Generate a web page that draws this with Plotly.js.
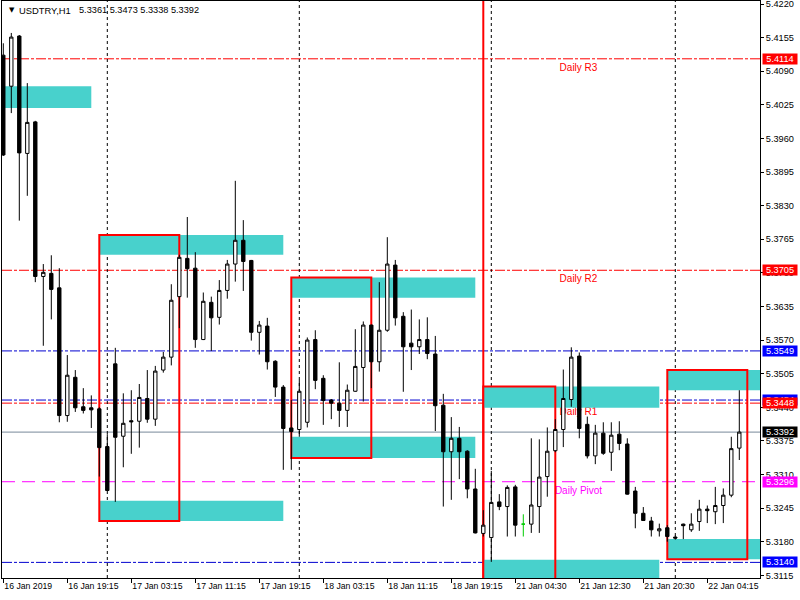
<!DOCTYPE html>
<html><head><meta charset="utf-8">
<script src="https://cdn.plot.ly/plotly-3.0.1.min.js"></script>
<style>html,body{margin:0;padding:0;background:#fff}#chart{width:800px;height:600px}</style>
</head><body><div id="chart"></div>
<script>
const symbolName = 'USDTRY,H1';
const openP = [
5.4121,5.4061,5.4158,5.3931,5.3992,5.3693,5.3699,5.3671,5.3424,5.3498,
5.3441,5.3439,5.3437,5.3364,5.3524,5.3384,5.3414,5.3413,5.3457,5.3417,
5.3512,5.3537,5.3654,5.3728,5.3709,5.3571,5.3643,5.3614,5.3666,5.3717,
5.3763,5.3724,5.3585,5.3597,5.3529,5.3479,5.3400,5.3397,5.3411,5.3571,
5.3496,5.3454,5.3448,5.3434,5.3471,5.3517,5.3599,5.3528,5.3589,5.3715,
5.3616,5.3564,5.3557,5.3571,5.3543,5.3444,5.3354,5.3380,5.3355,5.3282,
5.3196,5.3188,5.3257,5.3248,5.3286,5.3214,5.3214,5.3248,5.3306,5.3356,
5.3397,5.3455,5.3539,5.3407,5.3346,5.3390,5.3353,5.3388,5.3369,5.3278,
5.3235,5.3220,5.3201,5.3207,5.3189,5.3214,5.3203,5.3219,5.3243,5.3238,
5.3250,5.3270,5.3361];
const highP = [
5.4144,5.4164,5.4160,5.4067,5.3994,5.3717,5.3734,5.3709,5.3541,5.3512,
5.3477,5.3463,5.3440,5.3388,5.3555,5.3467,5.3473,5.3485,5.3512,5.3520,
5.3547,5.3678,5.3735,5.3808,5.3740,5.3662,5.3654,5.3686,5.3725,5.3878,
5.3802,5.3725,5.3607,5.3613,5.3531,5.3483,5.3454,5.3493,5.3575,5.3589,
5.3502,5.3456,5.3527,5.3484,5.3591,5.3606,5.3600,5.3682,5.3769,5.3725,
5.3624,5.3629,5.3610,5.3614,5.3578,5.3466,5.3421,5.3402,5.3357,5.3321,
5.3241,5.3317,5.3272,5.3289,5.3290,5.3233,5.3380,5.3378,5.3401,5.3417,
5.3513,5.3556,5.3546,5.3422,5.3406,5.3411,5.3411,5.3413,5.3380,5.3286,
5.3247,5.3228,5.3215,5.3212,5.3192,5.3215,5.3235,5.3261,5.3250,5.3286,
5.3283,5.3383,5.3473];
const lowP = [
5.3926,5.4009,5.3801,5.3849,5.3682,5.3559,5.3610,5.3411,5.3412,5.3431,
5.3428,5.3400,5.3306,5.3279,5.3257,5.3324,5.3350,5.3362,5.3410,5.3404,
5.3507,5.3521,5.3593,5.3652,5.3555,5.3570,5.3549,5.3600,5.3650,5.3683,
5.3665,5.3569,5.3542,5.3513,5.3460,5.3319,5.3319,5.3383,5.3401,5.3475,
5.3406,5.3417,5.3402,5.3402,5.3470,5.3451,5.3477,5.3509,5.3586,5.3598,
5.3470,5.3512,5.3543,5.3533,5.3394,5.3248,5.3261,5.3301,5.3264,5.3196,
5.3190,5.3141,5.3241,5.3190,5.3190,5.3190,5.3197,5.3197,5.3267,5.3353,
5.3363,5.3441,5.3380,5.3341,5.3330,5.3348,5.3317,5.3357,5.3271,5.3206,
5.3220,5.3190,5.3190,5.3180,5.3184,5.3185,5.3199,5.3201,5.3216,5.3214,
5.3216,5.3266,5.3338];
const closeP = [
5.3928,5.4156,5.3932,5.3991,5.3693,5.3701,5.3668,5.3424,5.3502,5.3439,
5.3434,5.3435,5.3362,5.3279,5.3382,5.3409,5.3412,5.3459,5.3417,5.3510,
5.3537,5.3647,5.3730,5.3708,5.3571,5.3645,5.3613,5.3666,5.3717,5.3763,
5.3722,5.3585,5.3599,5.3528,5.3479,5.3399,5.3393,5.3471,5.3570,5.3492,
5.3453,5.3448,5.3434,5.3473,5.3519,5.3599,5.3528,5.3589,5.3717,5.3613,
5.3557,5.3557,5.3571,5.3544,5.3443,5.3354,5.3380,5.3354,5.3282,5.3197,
5.3212,5.3256,5.3248,5.3285,5.3212,5.3214,5.3251,5.3305,5.3355,5.3397,
5.3457,5.3537,5.3399,5.3346,5.3390,5.3351,5.3386,5.3370,5.3272,5.3235,
5.3221,5.3203,5.3205,5.3190,5.3187,5.3211,5.3214,5.3243,5.3240,5.3250,
5.3270,5.3360,5.3392];

const tickIndex = [0,8,16,24,32,40,48,56,64,72,80,88];
const tickLabels = ['16 Jan 2019','16 Jan 19:15','17 Jan 03:15','17 Jan 11:15','17 Jan 19:15','18 Jan 03:15',
  '18 Jan 11:15','18 Jan 19:15','21 Jan 04:30','21 Jan 12:30','21 Jan 20:30','22 Jan 04:15'];
const priceTicks = [5.4220,5.4155,5.4090,5.4025,5.3960,5.3895,5.3830,5.3765,5.3700,5.3635,5.3570,5.3505,5.3440,5.3375,5.3310,5.3245,5.3180,5.3115];

const separatorIndex = [13,37,61,84];
const markerLineIndex = [60];

const levelValues = [5.4114,5.3705,5.3549,5.3454,5.3448,5.3296,5.3140];
const levelNames  = ['Daily R3','Daily R2','','','Daily R1','Daily Pivot','Fib S1'];
const levelColors = ['#FF0000','#FF0000','#0000D0','#0000D0','#FF0000','#FF00FF','#0000D0'];
const levelLabelBg = ['#FF0000','#FF0000','#0000FF','#0000FF','#FF0000','#FF00FF','#0000FF'];
const levelTextColors = ['#FF0000','#FF0000','','','#FF0000','#FF00FF','#FFFFFF'];
const levelDash = ['dot-dash','dot-dash','dot-dash','dot-dash','dot-dash','dash','dot-dash'];

const zoneStart  = [-5,12,12,36,36,60,60,83,83];
const zoneEnd    = [11,35,35,59,59,82,82,120,120];
const zoneTop    = [5.4061,5.3773,5.3259,5.3691,5.3383,5.3480,5.3145,5.3512,5.3185];
const zoneBottom = [5.4019,5.3735,5.3220,5.3652,5.3342,5.3439,5.3100,5.3473,5.3146];

const boxStart  = [12,36,60,83];
const boxEnd    = [22,46,69,93];
const boxTop    = [5.3773,5.3691,5.3480,5.3512];
const boxBottom = [5.3220,5.3342,5.3100,5.3146];

// ---------- build ----------
const idx = openP.map((_, i) => i);
const main = {x: [], open: [], high: [], low: [], close: []};
const doji = {x: [], open: [], high: [], low: [], close: []};
idx.forEach(i => {
  const t = (openP[i] === closeP[i]) ? doji : main;
  t.x.push(i); t.open.push(openP[i]); t.high.push(highP[i]); t.low.push(lowP[i]); t.close.push(closeP[i]);
});

const traces = [
  Object.assign({type: 'candlestick', whiskerwidth: 0, hoverinfo: 'skip', showlegend: false,
    increasing: {line: {color: '#000', width: 1}, fillcolor: '#FFFFFF'},
    decreasing: {line: {color: '#000', width: 1}, fillcolor: '#000000'}}, main),
  Object.assign({type: 'candlestick', whiskerwidth: 0, hoverinfo: 'skip', showlegend: false,
    increasing: {line: {color: '#00CC00', width: 1}, fillcolor: '#00CC00'},
    decreasing: {line: {color: '#00CC00', width: 1}, fillcolor: '#00CC00'}}, doji)
];

const FONT = 'Liberation Sans, Arial, sans-serif';
const dashMap = {'dot-dash': '10px,2px,3px,2px', 'dash': '13px,7px'};
const labelX = (578.5 - 2) / 758;
const shapes = [];
zoneStart.forEach((s, i) => shapes.push({type: 'rect', xref: 'x', yref: 'y', layer: 'below',
  x0: s, x1: zoneEnd[i], y0: zoneBottom[i], y1: zoneTop[i], fillcolor: '#48D1CC', line: {width: 0}}));
levelValues.forEach((v, i) => shapes.push({type: 'line', xref: 'paper', yref: 'y', layer: 'below',
  x0: 0, x1: 1, y0: v, y1: v, line: {color: levelColors[i], width: 1, dash: dashMap[levelDash[i]]}}));
const lastClose = closeP[closeP.length - 1];
shapes.push({type: 'line', xref: 'paper', yref: 'y', layer: 'below', x0: 0, x1: 1, y0: lastClose, y1: lastClose,
  line: {color: '#778899', width: 1}});
separatorIndex.forEach(k => shapes.push({type: 'line', xref: 'x', yref: 'paper', layer: 'below',
  x0: k, x1: k, y0: 0, y1: 1, line: {color: '#000', width: 1, dash: '3px,3px'}}));
boxStart.forEach((s, i) => shapes.push({type: 'rect', xref: 'x', yref: 'y', layer: 'below',
  x0: s, x1: boxEnd[i], y0: boxBottom[i], y1: boxTop[i], fillcolor: 'rgba(0,0,0,0)', line: {color: '#FF0000', width: 2}}));
markerLineIndex.forEach(k => shapes.push({type: 'line', xref: 'x', yref: 'paper', layer: 'below',
  x0: k, x1: k, y0: 0, y1: 1, line: {color: '#FF0000', width: 2}}));
// level names: drawn as labels of invisible short segments, beneath the candles
levelValues.forEach((v, i) => {
  if (!levelNames[i]) return;
  shapes.push({type: 'line', xref: 'paper', yref: 'y', layer: 'below',
    x0: labelX - 0.04, x1: labelX + 0.04, y0: v, y1: v, line: {color: 'rgba(0,0,0,0)', width: 0},
    label: {text: levelNames[i], textposition: 'middle', yanchor: 'top', padding: 2,
      font: {family: FONT, size: 10, color: levelTextColors[i]}}});
});

const annotations = [];
// price labels on axis
levelValues.forEach((v, i) => {
  annotations.push({xref: 'paper', yref: 'y', x: 1, xshift: 2, y: v, xanchor: 'left', yanchor: 'middle',
    text: v.toFixed(4), showarrow: false, bgcolor: levelLabelBg[i], borderpad: 0, width: 34, height: 10,
    font: {family: FONT, size: 9.2, color: '#FFFFFF'}});
});
annotations.push({xref: 'paper', yref: 'y', x: 1, xshift: 2, y: lastClose, xanchor: 'left', yanchor: 'middle',
  text: lastClose.toFixed(4), showarrow: false, bgcolor: '#000000', borderpad: 0, width: 34, height: 10,
  font: {family: FONT, size: 9.2, color: '#FFFFFF'}});
// header
const n = openP.length - 1;
annotations.push({xref: 'paper', yref: 'paper', x: (7 - 2) / 758, y: (578 - 10) / 577, xanchor: 'left', yanchor: 'middle',
  text: '▼', showarrow: false, font: {family: 'DejaVu Sans, sans-serif', size: 7, color: '#000'}});
annotations.push({xref: 'paper', yref: 'paper', x: (17 - 2) / 758, y: (578 - 10.5) / 577, xanchor: 'left', yanchor: 'middle',
  text: symbolName, showarrow: false, font: {family: FONT, size: 9.4, color: '#000'}});
annotations.push({xref: 'paper', yref: 'paper', x: (77 - 2) / 758, y: (578 - 10.5) / 577, xanchor: 'left', yanchor: 'middle',
  text: [openP[n], highP[n], lowP[n], closeP[n]].map(v => v.toFixed(4)).join(' '), showarrow: false,
  font: {family: FONT, size: 9.2, color: '#000'}});

const layout = {
  width: 800, height: 600,
  margin: {l: 2, r: 40, t: 1, b: 22, pad: 0},
  paper_bgcolor: '#FFFFFF', plot_bgcolor: '#FFFFFF',
  showlegend: false,
  boxgap: 0.4,
  font: {family: FONT, size: 9.2, color: '#000'},
  xaxis: {range: [-0.1625, 94.5875], showgrid: false, zeroline: false, showline: true, mirror: true,
    linecolor: '#000', linewidth: 1, ticks: 'outside', ticklen: 4, tickcolor: '#000',
    tickmode: 'array', tickvals: tickIndex, ticktext: tickLabels, ticklabelposition: 'outside right',
    tickfont: {family: FONT, size: 8.7, color: '#000'}, rangeslider: {visible: false}, fixedrange: true},
  yaxis: {side: 'right', range: [5.31098, 5.42258], showgrid: false, zeroline: false, showline: true, mirror: true,
    linecolor: '#000', linewidth: 1, ticks: 'outside', ticklen: 3, tickcolor: '#000', ticklabeloverflow: 'allow',
    tickmode: 'array', tickvals: priceTicks, ticktext: priceTicks.map(v => v.toFixed(4)),
    tickfont: {family: FONT, size: 9.2, color: '#000'}, fixedrange: true},
  shapes: shapes,
  annotations: annotations
};

Plotly.newPlot('chart', traces, layout, {staticPlot: true, displayModeBar: false});
</script>
</body></html>
